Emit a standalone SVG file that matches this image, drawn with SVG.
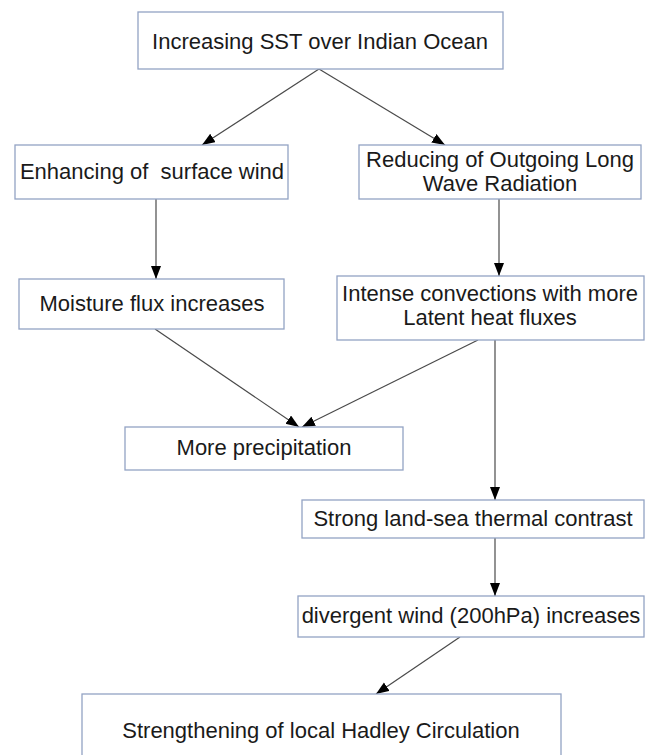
<svg xmlns="http://www.w3.org/2000/svg" width="650" height="755" viewBox="0 0 650 755">
<style>
.box{fill:#ffffff;stroke:#93a3c4;stroke-width:1.3}
.t{font-family:"Liberation Sans",Arial,sans-serif;font-size:22px;fill:#1a1a1a;text-anchor:middle;white-space:pre}
.c{stroke:#4a4a4a;stroke-width:1.2;fill:none;marker-end:url(#ah)}
</style>
<defs>
<marker id="ah" markerUnits="userSpaceOnUse" markerWidth="14" markerHeight="12" refX="13" refY="5" orient="auto">
<path d="M0,0 L13,5 L0,10 z" fill="#000"/>
</marker>
</defs>
<rect width="650" height="755" fill="#ffffff"/>
<g id="connectors">
<line class="c" x1="319" y1="69" x2="202" y2="145"/>
<line class="c" x1="319" y1="69" x2="445" y2="145"/>
<line class="c" x1="156" y1="199" x2="156" y2="279"/>
<line class="c" x1="499" y1="199" x2="499" y2="276"/>
<line class="c" x1="155" y1="329" x2="299" y2="427"/>
<line class="c" x1="478" y1="340" x2="302" y2="427"/>
<line class="c" x1="495" y1="340" x2="495" y2="500"/>
<line class="c" x1="495" y1="538" x2="495" y2="596"/>
<line class="c" x1="460" y1="637" x2="376" y2="694"/>
</g>
<g id="n1">
<rect class="box" x="138" y="12" width="365" height="57"/>
<text class="t" x="320" y="49">Increasing SST over Indian Ocean</text>
</g>
<g id="n2">
<rect class="box" x="15" y="145" width="273" height="54"/>
<text class="t" x="152" y="179" xml:space="preserve">Enhancing of  surface wind</text>
</g>
<g id="n3">
<rect class="box" x="359" y="145" width="282" height="54"/>
<text class="t" x="500" y="167">Reducing of Outgoing Long</text>
<text class="t" x="500" y="191">Wave Radiation</text>
</g>
<g id="n4">
<rect class="box" x="19" y="279" width="265" height="50"/>
<text class="t" x="152" y="311">Moisture flux increases</text>
</g>
<g id="n5">
<rect class="box" x="337" y="276" width="307" height="64"/>
<text class="t" x="490" y="301">Intense convections with more</text>
<text class="t" x="490" y="325">Latent heat fluxes</text>
</g>
<g id="n6">
<rect class="box" x="125" y="427" width="278" height="43"/>
<text class="t" x="264" y="455">More precipitation</text>
</g>
<g id="n7">
<rect class="box" x="302" y="500" width="342" height="38"/>
<text class="t" x="473" y="526">Strong land-sea thermal contrast</text>
</g>
<g id="n8">
<rect class="box" x="298" y="596" width="346" height="41"/>
<text class="t" x="471" y="623">divergent wind (200hPa) increases</text>
</g>
<g id="n9">
<rect class="box" x="82" y="694" width="479" height="70"/>
<text class="t" x="321" y="738">Strengthening of local Hadley Circulation</text>
</g>
</svg>
